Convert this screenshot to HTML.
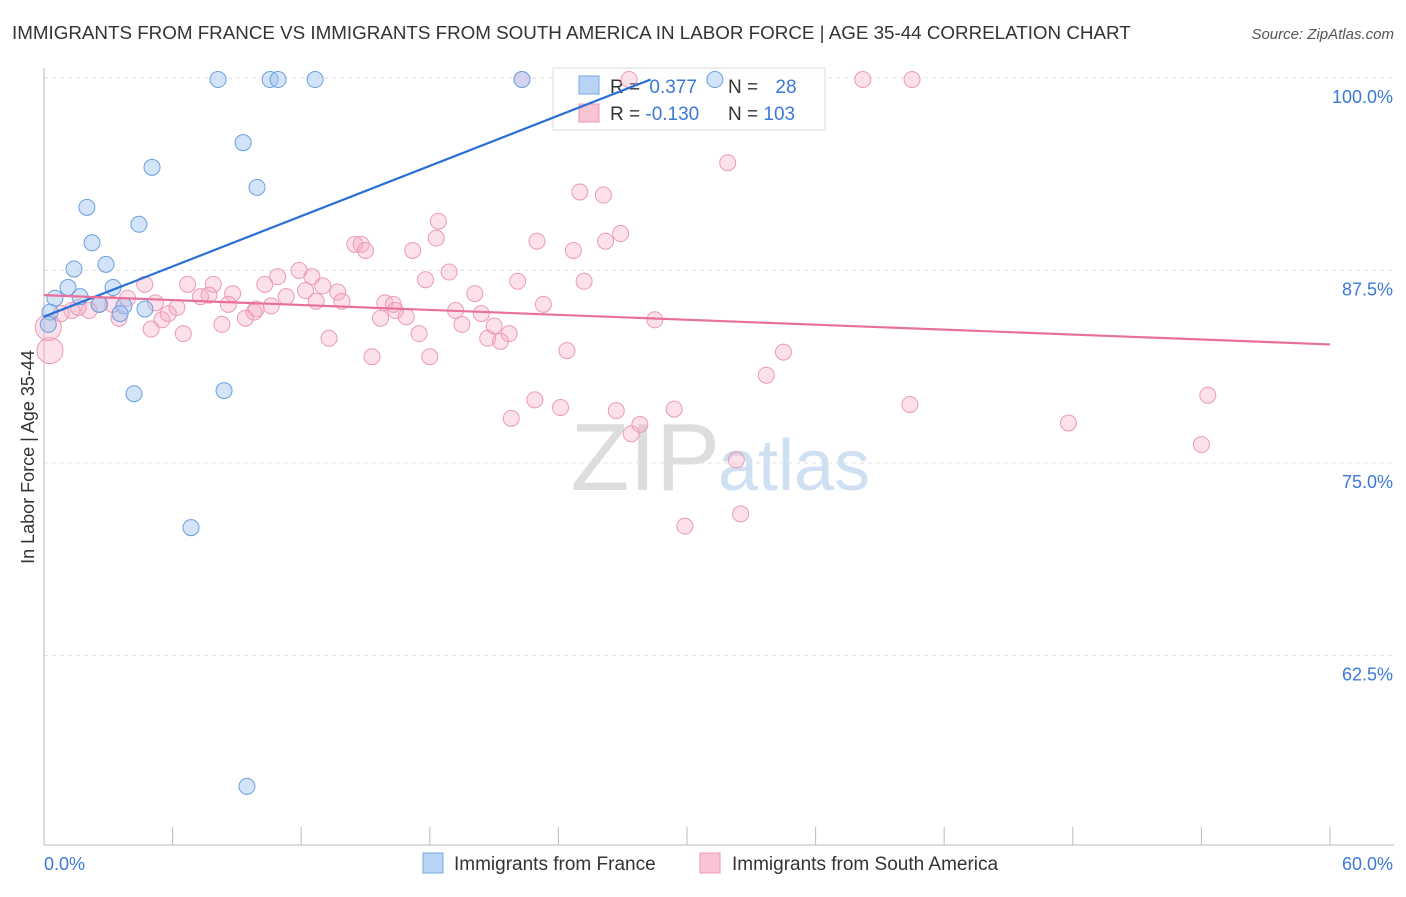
<!DOCTYPE html>
<html><head><meta charset="utf-8">
<style>
body{margin:0;background:#fff;font-family:"Liberation Sans",sans-serif;}
svg text{font-family:"Liberation Sans",sans-serif;}
</style></head>
<body>
<svg id="chart" width="1406" height="892" xmlns="http://www.w3.org/2000/svg">
<text x="12" y="39" font-size="18.8" fill="#333">IMMIGRANTS FROM FRANCE VS IMMIGRANTS FROM SOUTH AMERICA IN LABOR FORCE | AGE 35-44 CORRELATION CHART</text>
<text x="1394" y="39" font-size="15" fill="#555" font-style="italic" text-anchor="end">Source: ZipAtlas.com</text>
<text x="720" y="490" font-size="96" fill="#ddd" text-anchor="end" font-family="Liberation Serif">ZIP</text>
<text x="718" y="490" font-size="72" fill="#cfe0f3">atlas</text>
<g id="grid"></g>
<g id="axes"></g>
<g>
<rect x="553" y="68" width="272" height="62" fill="rgba(255,255,255,0.85)" stroke="#ddd"/>
<rect x="579" y="76" width="20" height="18" fill="#b8d4f4" stroke="#7aa7e0"/>
<rect x="579" y="104" width="20" height="18" fill="#f9c5d5" stroke="#ec99b4"/>
<text x="610" y="93" font-size="19" fill="#333">R = <tspan fill="#3c78d8" dx="4">0.377</tspan></text>
<text x="728" y="93" font-size="19" fill="#333">N = <tspan fill="#3c78d8" dx="12">28</tspan></text>
<text x="610" y="120" font-size="19" fill="#333">R = <tspan fill="#3c78d8">-0.130</tspan></text>
<text x="728" y="120" font-size="19" fill="#333">N = <tspan fill="#3c78d8">103</tspan></text>
</g>
<g id="points"></g>
<g id="trends"></g>
<text transform="translate(34,457) rotate(-90)" font-size="18" fill="#333" text-anchor="middle">In Labor Force | Age 35-44</text>
<g>
<rect x="423" y="853" width="20" height="20" fill="#b8d4f4" stroke="#7aa7e0"/>
<text x="454" y="870" font-size="19" fill="#333">Immigrants from France</text>
<rect x="700" y="853" width="20" height="20" fill="#f9c5d5" stroke="#ec99b4"/>
<text x="732" y="870" font-size="19" fill="#333">Immigrants from South America</text>
</g>
</svg>
<script>
const yTicks=[100,87.5,75,62.5];
const yTickLabels=["100.0%","87.5%","75.0%","62.5%"];
const xTickLabels=["0.0%","60.0%"];
const franceX=[8.12,10.55,10.92,12.65,22.3,31.3,9.29,5.04,9.94,2.0,4.43,2.24,1.4,2.89,1.12,3.22,0.51,1.68,2.57,3.73,4.71,3.55,0.28,8.4,4.2,6.86,9.47,0.2];
const franceY=[99.9,99.9,99.9,99.9,99.9,99.9,95.8,94.2,92.9,91.6,90.5,89.3,87.6,87.9,86.4,86.4,85.7,85.8,85.3,85.2,85.0,84.7,84.8,79.7,79.5,70.8,54.0,84.0];
const saX=[22.3,27.3,38.2,40.5,31.9,25.0,26.1,18.4,26.9,18.3,23.0,26.2,14.5,14.8,15.0,17.2,24.7,11.9,12.5,18.9,10.9,17.8,22.1,25.2,10.3,13.0,6.7,7.9,4.7,12.2,13.7,20.1,7.7,8.8,3.9,7.3,11.3,12.7,13.9,5.2,15.9,16.3,16.4,23.3,8.6,10.6,9.9,6.2,3.2,2.6,2.1,1.3,0.8,1.6,9.8,9.4,19.2,20.4,16.9,5.5,5.8,15.7,28.5,3.5,8.3,19.5,21.0,5.0,6.5,17.5,21.7,20.7,13.3,21.3,24.4,15.3,18.0,34.5,33.7,22.9,40.4,54.3,24.1,26.7,29.4,21.8,47.8,27.8,27.4,54.0,32.3,29.9,32.5,0.28,0.2];
const saY=[99.9,99.9,99.9,99.9,94.5,92.6,92.4,90.7,89.9,89.6,89.4,89.4,89.2,89.2,88.8,88.8,88.8,87.5,87.1,87.4,87.1,86.9,86.8,86.8,86.6,86.5,86.6,86.6,86.6,86.2,86.1,86.0,85.9,86.0,85.7,85.8,85.8,85.5,85.5,85.4,85.4,85.3,84.9,85.3,85.3,85.2,85.0,85.1,85.3,85.3,84.9,84.9,84.7,85.1,84.8,84.4,84.9,84.7,84.5,84.3,84.7,84.4,84.3,84.4,84.0,84.0,83.9,83.7,83.4,83.4,83.4,83.1,83.1,82.9,82.3,81.9,81.9,82.2,80.7,79.1,78.8,79.4,78.6,78.4,78.5,77.9,77.6,77.5,76.9,76.2,75.2,70.9,71.7,82.3,83.8];
const franceTrend=[84.5,99.9];const franceTrendX=[0,28.3];
const saTrend=[85.9,82.7];const saTrendX=[0,60];
const NS="http://www.w3.org/2000/svg";
const X=v=>44+v*(1330-44)/60;
const Y=v=>78+(100-v)*15.4;
function mk(tag,attrs,parent){const e=document.createElementNS(NS,tag);for(const k in attrs)e.setAttribute(k,attrs[k]);document.getElementById(parent).appendChild(e);return e;}
yTicks.forEach((t,i)=>{
 const l=mk('line',{x1:44,x2:1394,y1:Y(t),y2:Y(t),stroke:'#e2e2e2','stroke-dasharray':'4,4'},'grid');
 
 
 const tx=mk('text',{x:1393,y:Y(t)+25,'font-size':18,fill:'#3c78d8','text-anchor':'end'},'grid');
 tx.textContent=yTickLabels[i];
 
 
});
const ax=mk('line',{x1:44,x2:44,y1:68,y2:845,stroke:'#bbb'},'axes');


const bx=mk('line',{x1:44,x2:1394,y1:845,y2:845,stroke:'#bbb'},'axes');


for(let i=0;i<=10;i++){const t=mk('line',{x1:X(i*6),x2:X(i*6),y1:827,y2:845,stroke:'#bbb'},'axes');
 
 }
[0,60].forEach((v,i)=>{const t=mk('text',{x:i?1393:44,y:870,'font-size':18,fill:'#3c78d8','text-anchor':i?'end':'start'},'axes');t.textContent=xTickLabels[i];
 
 });
saX.forEach((v,i)=>{const big=i>=saX.length-2;const c=mk('circle',{cx:X(v),cy:Y(saY[i]),r:big?13:8,fill:'rgba(246,170,195,0.35)',stroke:'#eb9ab5','stroke-width':1},'points');
 
 });
franceX.forEach((v,i)=>{const c=mk('circle',{cx:X(v),cy:Y(franceY[i]),r:8,fill:'rgba(160,196,240,0.45)',stroke:'#6a9fe0','stroke-width':1},'points');
 
 });
const t1=mk('line',{x1:X(franceTrendX[0]),y1:Y(franceTrend[0]),x2:X(franceTrendX[1]),y2:Y(franceTrend[1]),stroke:'#2a6fd6','stroke-width':2.2},'trends');


const t2=mk('line',{x1:X(saTrendX[0]),y1:Y(saTrend[0]),x2:X(saTrendX[1]),y2:Y(saTrend[1]),stroke:'#e8709a','stroke-width':2.2},'trends');


</script>
</body></html>
